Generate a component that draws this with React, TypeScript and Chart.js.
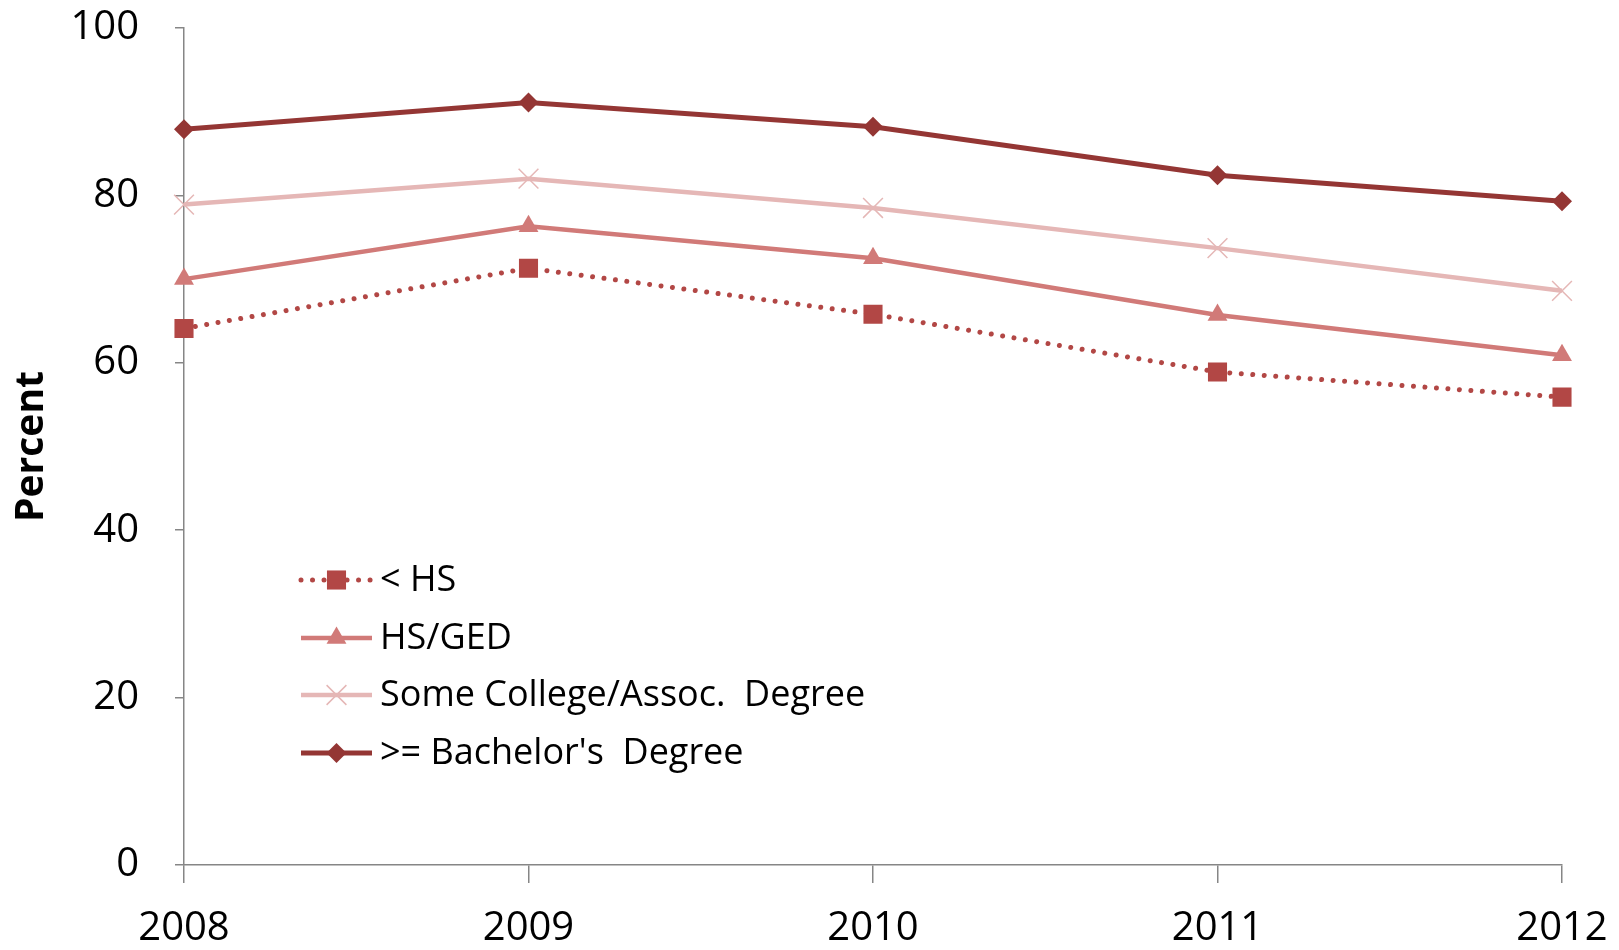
import React, { useEffect, useRef } from "react";
import { Chart, registerables } from "chart.js";
import { drawPoint } from "chart.js/helpers";

Chart.register(...registerables);

const years = ["2008", "2009", "2010", "2011", "2012"];
const lessHS = [64.1, 71.3, 65.8, 58.9, 55.9];
const hsGed = [70.0, 76.3, 72.5, 65.7, 60.9];
const someCollege = [78.9, 82.0, 78.5, 73.7, 68.6];
const bachelors = [87.9, 91.1, 88.2, 82.4, 79.3];
const seriesNames = ["< HS", "HS/GED", "Some College/Assoc.  Degree", ">= Bachelor's  Degree"];
const yTicks = [0, 20, 40, 60, 80, 100];

const FONT = "'Open Sans', 'DejaVu Sans', sans-serif";
const AXIS = "#868686";

const legendPlugin = {
  id: "insideLegend",
  afterDraw(chart: any) {
    const ctx = chart.ctx;
    const x0 = 301;
    const x1 = 372;
    const tx = 380;
    const rows = [580, 638, 695, 753];
    chart.data.datasets.forEach((ds: any, i: number) => {
      const y = rows[i];
      ctx.save();
      ctx.strokeStyle = ds.borderColor;
      ctx.lineWidth = ds.borderWidth;
      ctx.lineCap = ds.borderCapStyle || "butt";
      ctx.setLineDash(ds.borderDash || []);
      ctx.beginPath();
      ctx.moveTo(x0, y);
      ctx.lineTo(x1, y);
      ctx.stroke();
      ctx.setLineDash([]);
      ctx.fillStyle = ds.pointBackgroundColor;
      ctx.strokeStyle = ds.pointBorderColor;
      ctx.lineWidth = ds.pointBorderWidth;
      drawPoint(ctx, { pointStyle: ds.pointStyle, radius: ds.pointRadius, rotation: 0, borderWidth: ds.pointBorderWidth }, (x0 + x1) / 2, y);
      ctx.fillStyle = "#000";
      ctx.font = `36px ${FONT}`;
      ctx.textBaseline = "middle";
      ctx.textAlign = "left";
      ctx.fillText(ds.label, tx, y + 1);
      ctx.restore();
    });
  },
};

export default function App() {
  const ref = useRef<HTMLCanvasElement | null>(null);
  useEffect(() => {
    if (!ref.current) return;
    const chart = new Chart(ref.current, {
      type: "line",
      data: {
        labels: years,
        datasets: [
          {
            label: seriesNames[0],
            data: lessHS,
            borderColor: "#B24745",
            borderWidth: 5,
            borderDash: [0.01, 11.5],
            borderCapStyle: "round",
            pointStyle: "rect",
            pointRadius: 13.5,
            pointBackgroundColor: "#B24745",
            pointBorderColor: "#B24745",
            pointBorderWidth: 0,
            tension: 0,
          },
          {
            label: seriesNames[1],
            data: hsGed,
            borderColor: "#D17A78",
            borderWidth: 4.5,
            pointStyle: "triangle",
            pointRadius: 11.5,
            pointBackgroundColor: "#D17A78",
            pointBorderColor: "#D17A78",
            pointBorderWidth: 0,
            tension: 0,
          },
          {
            label: seriesNames[2],
            data: someCollege,
            borderColor: "#E5B7B6",
            borderWidth: 4.5,
            pointStyle: "crossRot",
            pointRadius: 14,
            pointBackgroundColor: "#E5B7B6",
            pointBorderColor: "#E5B7B6",
            pointBorderWidth: 1.5,
            tension: 0,
          },
          {
            label: seriesNames[3],
            data: bachelors,
            borderColor: "#943634",
            borderWidth: 5,
            pointStyle: "rectRot",
            pointRadius: 10,
            pointBackgroundColor: "#943634",
            pointBorderColor: "#943634",
            pointBorderWidth: 0,
            tension: 0,
          },
        ],
      },
      options: {
        animation: false,
        responsive: false,
        maintainAspectRatio: false,
        layout: { padding: { left: 0, right: 57, top: 28, bottom: 0 } },
        plugins: { legend: { display: false }, tooltip: { enabled: false } },
        scales: {
          x: {
            type: "category",
            offset: false,
            grid: { drawOnChartArea: false, drawTicks: true, tickLength: 18, color: AXIS, lineWidth: 1.5 },
            border: { color: AXIS, width: 1.5 },
            ticks: { color: "#000", font: { family: FONT, size: 40, lineHeight: 1.2 }, padding: 22, maxRotation: 0, autoSkip: false },
            afterFit: (s: any) => { s.height = 85; s.paddingLeft = 0; s.paddingRight = 0; },
          },
          y: {
            min: 0,
            max: 100,
            afterBuildTicks: (s: any) => { s.ticks = yTicks.map((v) => ({ value: v })); },
            grid: { drawOnChartArea: false, drawTicks: true, tickLength: 9, color: AXIS, lineWidth: 1.5 },
            border: { color: AXIS, width: 1.5 },
            ticks: { color: "#000", font: { family: FONT, size: 40, lineHeight: 1.2 }, padding: 36 },
            title: {
              display: true,
              text: "Percent",
              color: "#000",
              font: { family: FONT, size: 39, weight: "bold", lineHeight: 1.2 },
              padding: { top: 8, bottom: 0 },
            },
            afterFit: (s: any) => { s.width = 184; s.paddingTop = 0; s.paddingBottom = 0; },
          },
        },
      },
      plugins: [legendPlugin],
    } as any);
    return () => chart.destroy();
  }, []);
  return (
    <div style={{ position: "absolute", left: 0, top: 0, width: 1619, height: 950, background: "#fff" }}>
      <canvas ref={ref} width={1619} height={950} style={{ width: 1619, height: 950, display: "block" }} />
    </div>
  );
}
